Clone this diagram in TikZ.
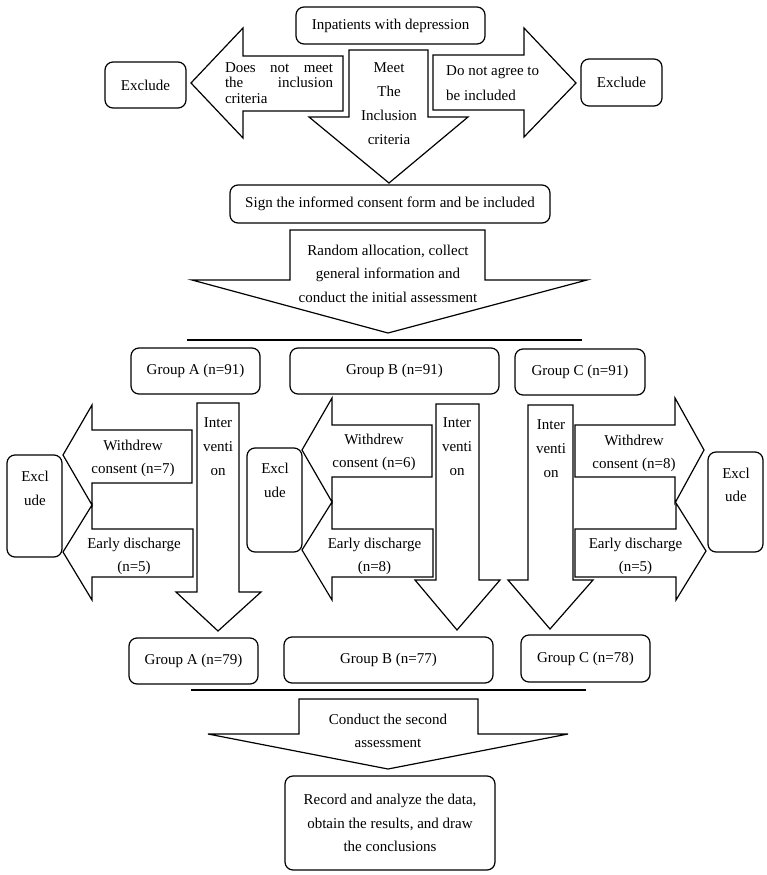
\documentclass[tikz,border=0pt]{standalone}
\usepackage{fontspec}
\setmainfont{Liberation Serif}
\newcommand{\myfs}{\fontsize{15}{23.5}\selectfont}
\begin{document}
\begin{tikzpicture}[x=1pt,y=-1pt,
  lw/.style={line width=1.2pt},
  box/.style={draw, lw, rounded corners=8pt, inner sep=0pt, align=center, font=\myfs},
  blk/.style={draw, lw, line join=miter},
  txt/.style={inner sep=0pt, align=center, font=\myfs},
]
\useasboundingbox (0,0) rectangle (767,875);

% ---------- top part ----------
\node[box, minimum width=189pt, minimum height=37pt] (inp) at (390.5,25.5) {Inpatients with depression};
\node[box, minimum width=81pt, minimum height=46pt] (exL) at (145.5,85) {Exclude};
\node[box, minimum width=81pt, minimum height=47pt] (exR) at (621.5,82.5) {Exclude};

\draw[blk] (343,56) -- (243,56) -- (243,28) -- (191,83) -- (243,138) -- (243,111) -- (343,111) -- cycle;
\draw[blk] (349,50) -- (428,50) -- (428,117) -- (468,117) -- (389,183) -- (309,117) -- (349,117) -- cycle;
\draw[blk] (433,55) -- (524,55) -- (524,28) -- (576,83) -- (524,137) -- (524,110) -- (433,110) -- cycle;

\node[txt, align=left, font={\fontsize{15}{15.5}\selectfont}] (tL) at (279,83)
  {\makebox[108pt][s]{Does not meet}\\\makebox[108pt][s]{the inclusion}\\criteria};
\node[txt, font={\fontsize{15}{24}\selectfont}] (tM) at (389,104) {Meet\\The\\Inclusion\\criteria};
\node[txt, align=left, anchor=west, font={\fontsize{15}{25}\selectfont}] (tR) at (446,83.5) {Do not agree to\\be included};

\node[box, minimum width=320pt, minimum height=38pt] (sign) at (390,204) {Sign the informed consent form and be included};

\draw[blk] (290,230) -- (485,230) -- (485,280) -- (587,280) -- (388,333) -- (192,280) -- (290,280) -- cycle;
\node[txt] (tRand) at (388,273.5) {Random allocation, collect\\general information and\\conduct the initial assessment};

\coordinate (h1a) at (187,340);
\coordinate (h1b) at (582,340);
\draw[lw] (h1a) -- (h1b);

% ---------- groups ----------
\node[box, minimum width=129pt, minimum height=46pt] (gA1) at (195.5,371) {Group A (n=91)};
\node[box, minimum width=209pt, minimum height=46pt] (gB1) at (394.5,371) {Group B (n=91)};
\node[box, minimum width=130pt, minimum height=46pt] (gC1) at (580,372) {Group C (n=91)};

% group A
\draw[blk] (197,403) -- (239,403) -- (239,592) -- (261,592) -- (218,631) -- (176,592) -- (197,592) -- cycle;
\draw[blk] (192,430) -- (92,430) -- (92,405) -- (63,455) -- (92,505) -- (92,483) -- (192,483) -- cycle;
\draw[blk] (193,529) -- (92,529) -- (92,505) -- (63,552) -- (92,600) -- (92,577) -- (193,577) -- cycle;
\node[box, minimum width=55pt, minimum height=102pt] (exA) at (34.5,506) {};
\node[txt] (exAt) at (35,488.5) {Excl\\ude};
\node[txt] (tA1) at (133,458.5) {Withdrew\\consent (n=7)};
\node[txt] (tA2) at (134,556.5) {Early discharge\\(n=5)};
\node[txt, font={\fontsize{15}{24}\selectfont}] (tA3) at (218,447) {Inter\\venti\\on};

% group B
\draw[blk] (436,404) -- (479,404) -- (479,580) -- (500,580) -- (457,630) -- (415,580) -- (436,580) -- cycle;
\draw[blk] (432,425) -- (332,425) -- (332,398) -- (302,450) -- (332,502) -- (332,477) -- (432,477) -- cycle;
\draw[blk] (433,529) -- (332,529) -- (332,502) -- (302,550) -- (332,600) -- (332,577) -- (433,577) -- cycle;
\node[box, minimum width=55pt, minimum height=104pt] (exB) at (274.5,500) {};
\node[txt] (exBt) at (275,480.5) {Excl\\ude};
\node[txt] (tB1) at (374,452.5) {Withdrew\\consent (n=6)};
\node[txt] (tB2) at (374.5,556.5) {Early discharge\\(n=8)};
\node[txt, font={\fontsize{15}{24}\selectfont}] (tB3) at (457,447) {Inter\\venti\\on};

% group C
\draw[blk] (528,405) -- (573,405) -- (573,580) -- (593,580) -- (550,629) -- (508,580) -- (528,580) -- cycle;
\draw[blk] (575,425) -- (675,425) -- (675,398) -- (704,450) -- (675,503) -- (675,477) -- (575,477) -- cycle;
\draw[blk] (575,529) -- (676,529) -- (676,503) -- (706,551) -- (676,600) -- (676,577) -- (575,577) -- cycle;
\node[box, minimum width=55pt, minimum height=100pt] (exC) at (735.5,502) {};
\node[txt] (exCt) at (736,485) {Excl\\ude};
\node[txt] (tC1) at (634,453.5) {Withdrew\\consent (n=8)};
\node[txt] (tC2) at (635.5,556.5) {Early discharge\\(n=5)};
\node[txt, font={\fontsize{15}{24}\selectfont}] (tC3) at (551,448.5) {Inter\\venti\\on};

% ---------- bottom ----------
\node[box, minimum width=129pt, minimum height=46pt] (gA2) at (193.5,661) {Group A (n=79)};
\node[box, minimum width=209pt, minimum height=46pt] (gB2) at (388.5,660) {Group B (n=77)};
\node[box, minimum width=129pt, minimum height=47pt] (gC2) at (585.5,658.5) {Group C (n=78)};

\coordinate (h2a) at (191,690);
\coordinate (h2b) at (586,690);
\draw[lw] (h2a) -- (h2b);

\draw[blk] (299,699) -- (478,699) -- (478,734) -- (568,734) -- (388,769) -- (208,734) -- (299,734) -- cycle;
\node[txt] (tCon) at (388,731) {Conduct the second\\assessment};

\node[box, minimum width=210pt, minimum height=94pt] (fin) at (390,823)
  {Record and analyze the data,\\obtain the results, and draw\\the conclusions};
\end{tikzpicture}
\end{document}
